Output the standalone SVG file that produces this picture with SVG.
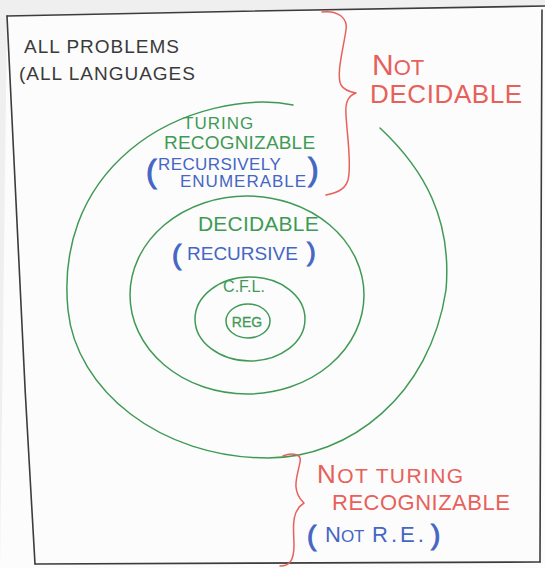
<svg xmlns="http://www.w3.org/2000/svg" width="545" height="568" viewBox="0 0 545 568">
<style>
  .ink { fill: none; stroke: #3c3c3c; stroke-width: 1.6; stroke-linecap: round; }
  .green { fill: none; stroke: #3f9a55; stroke-width: 1.5; stroke-linecap: round; }
  .brace { fill: none; stroke: #e8605a; stroke-width: 1.5; stroke-linecap: round; stroke-linejoin: round; }
  text { font-family: "Liberation Sans", Arial, sans-serif; }
  .t-dark { fill: #3a3a3a; font-size: 19px; letter-spacing: 1px; }
  .t-green { fill: #3f9a55; }
  .t-blue { fill: #4466c4; }
  .t-red { fill: #e8605a; }
  .paren { fill: #4466c4; stroke: #4466c4; stroke-width: 1; }
</style>
<rect x="0" y="0" width="545" height="568" fill="#efefef"/>
<path d="M7,16 L545,6 L545,568 L0,568 Z" fill="#fcfcfc"/>
<g id="frame">
  <path class="ink" d="M7,16 C180,12 380,9 545,6"/>
  <path class="ink" d="M7,16 C14,180 24,380 35,564"/>
  <path class="ink" d="M35,564 C200,563 380,563 540,562"/>
  <path class="ink" d="M542,10 C541,200 541,400 540,562"/>
</g>
<g id="all-problems">
  <text class="t-dark" x="24" y="53">ALL PROBLEMS</text>
  <text class="t-dark" x="19" y="80">(ALL LANGUAGES</text>
</g>
<g id="turing-recognizable">
  <path class="green" d="M293,105 C250,96 180,108 130,150 C80,192 62,250 68,310 C76,390 160,458 268,458 C350,458 430,395 446,290 C452,220 425,170 380,128"/>
  <text class="t-green" x="183" y="129" font-size="17" letter-spacing="1">TURING</text>
  <text class="t-green" x="164" y="149" font-size="19" letter-spacing="0.2">RECOGNIZABLE</text>
  <text class="paren" x="146" y="182" font-size="32">(</text>
  <text class="t-blue" x="158" y="170" font-size="17" letter-spacing="0.4">RECURSIVELY</text>
  <text class="t-blue" x="180" y="187" font-size="17" letter-spacing="1">ENUMERABLE</text>
  <text class="paren" x="308" y="180" font-size="32">)</text>
</g>
<g id="decidable">
  <ellipse class="green" cx="247" cy="295" rx="117" ry="99"/>
  <text class="t-green" x="198" y="231" font-size="21" letter-spacing="0.2">DECIDABLE</text>
  <text class="paren" x="172" y="264" font-size="28">(</text>
  <text class="t-blue" x="187" y="260" font-size="19">RECURSIVE</text>
  <text class="paren" x="307" y="261" font-size="26">)</text>
</g>
<g id="cfl">
  <ellipse class="green" cx="250" cy="319" rx="55" ry="42"/>
  <text class="t-green" x="244" y="292" font-size="16" text-anchor="middle">C.F.L.</text>
</g>
<g id="reg">
  <ellipse class="green" cx="248" cy="321" rx="22" ry="17"/>
  <text class="t-green" x="247" y="327" font-size="14" text-anchor="middle" stroke="#3f9a55" stroke-width="0.3">REG</text>
</g>
<g id="not-decidable">
  <path class="brace" d="M322,12 C338,10 348,18 346,30 C343,50 336,75 341,85 C344,90 350,92 356,93 C348,96 345,102 346,115 C347,135 352,165 348,180 C345,190 336,193 326,195"/>
  <text class="t-red" x="372" y="75"><tspan font-size="30">N</tspan><tspan font-size="22">OT</tspan></text>
  <text class="t-red" x="370" y="103" font-size="26" letter-spacing="0.6">DECIDABLE</text>
</g>
<g id="not-turing-recognizable">
  <path class="brace" d="M283,456 C292,452 302,454 300,462 C298,475 290,490 304,503 C290,512 294,530 294,545 C294,560 290,566 280,566"/>
  <text class="t-red" x="317" y="483" letter-spacing="1.4"><tspan font-size="26">N</tspan><tspan font-size="21">OT TURING</tspan></text>
  <text class="t-red" x="332" y="510" font-size="22" letter-spacing="0.5">RECOGNIZABLE</text>
  <text class="paren" x="307" y="545" font-size="28">(</text>
  <text class="t-blue" x="325" y="542"><tspan font-size="22">N</tspan><tspan font-size="17">OT</tspan></text>
  <text class="t-blue" x="372" y="542" font-size="22" letter-spacing="3">R.E.</text>
  <text class="paren" x="431" y="544" font-size="28">)</text>
</g>
</svg>
